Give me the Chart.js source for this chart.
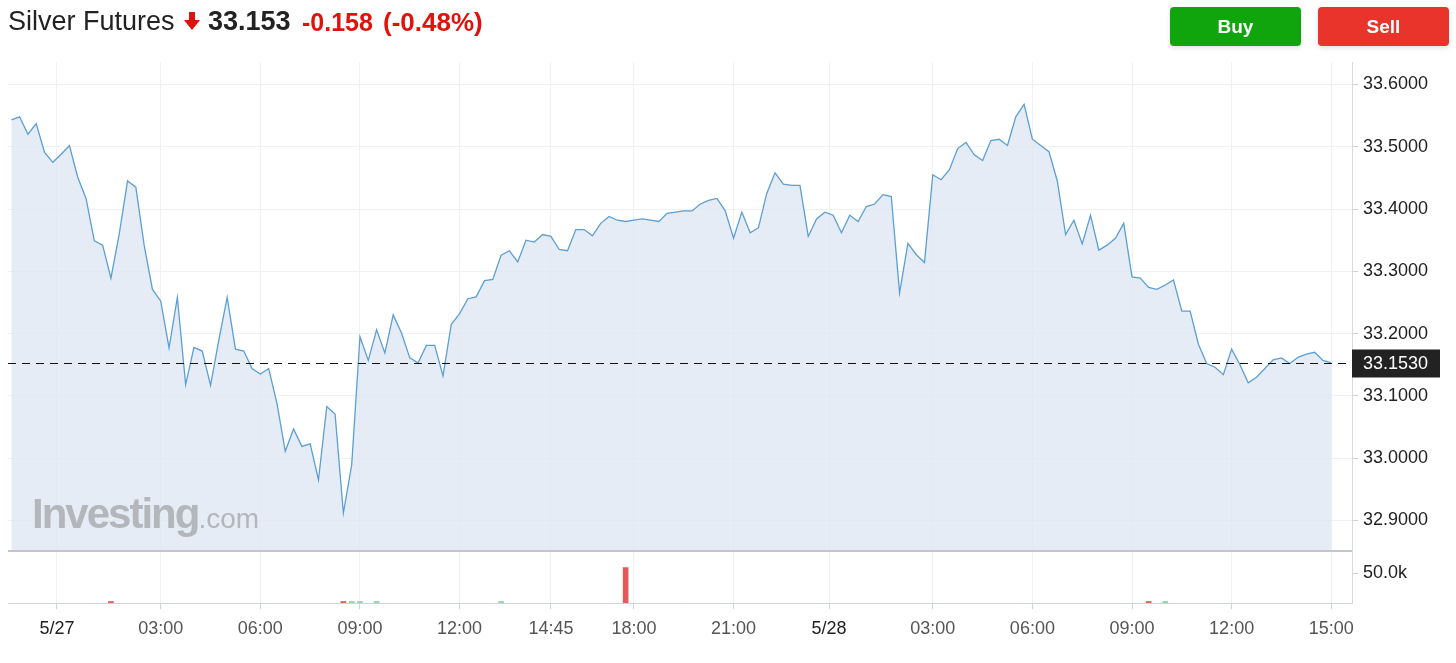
<!DOCTYPE html>
<html>
<head>
<meta charset="utf-8">
<title>Silver Futures</title>
<script src="https://cdn.jsdelivr.net/npm/chart.js@4.4.0/dist/chart.umd.min.js"></script>
<style>
  body { margin: 0; background: #fff; font-family: "Liberation Sans", Arial, sans-serif; }
  #wrap { position: relative; width: 1456px; height: 663px; overflow: hidden; }
  #chart { position: absolute; left: 0; top: 0; }
  .hdr { position: absolute; top: 8px; font-size: 27px; line-height: 27px; white-space: nowrap; }
  .name { left: 8px; color: #222; }
  .last { left: 208px; color: #222; font-weight: bold; }
  .chg { left: 302px; color: #e0120c; font-weight: bold; font-size: 25px; top: 9px; }
  .pct { left: 383px; color: #e0120c; font-weight: bold; font-size: 26px; top: 9px; }
  .arrow { position: absolute; left: 184px; top: 12px; }
  .btn { position: absolute; top: 7px; width: 131px; height: 39px; border-radius: 4px; color: #fff;
         font-weight: bold; font-size: 19px; display: flex; align-items: center; justify-content: center;
         box-shadow: 0 2px 5px rgba(0,0,0,0.12); }
  .buy { left: 1170px; background: #10a50d; }
  .sell { left: 1318px; background: #e8342a; }
  .wm { position: absolute; left: 32px; top: 490px; color: #b3b6bb; white-space: nowrap; }
  .wm b { font-size: 42px; letter-spacing: -2px; }
  .wm span { font-size: 28px; }
</style>
</head>
<body>
<div id="wrap">
  <canvas id="chart" width="1456" height="663"></canvas>
  <div class="wm"><b>Investing</b><span>.com</span></div>
  <div class="hdr name">Silver Futures</div>
  <svg class="arrow" width="16" height="18" viewBox="0 0 16 18"><path d="M5 0 H11 V8 H16 L8 18 L0 8 H5 Z" fill="#e0120c"/></svg>
  <div class="hdr last">33.153</div>
  <div class="hdr chg">-0.158</div>
  <div class="hdr pct">(-0.48%)</div>
  <div class="btn buy">Buy</div>
  <div class="btn sell">Sell</div>
</div>
<script>
// 15-minute closes, 5/26 22:30 -> 5/28 15:00 (market-closed hour skipped)
const prices = [
  33.543, 33.548, 33.520, 33.537, 33.491, 33.475, 33.488, 33.502, 33.451, 33.417,
  33.349, 33.342, 33.289, 33.360, 33.445, 33.435, 33.342, 33.271, 33.252, 33.177,
  33.258, 33.118, 33.178, 33.172, 33.117, 33.190, 33.258, 33.175, 33.172, 33.144,
  33.135, 33.144, 33.088, 33.011, 33.047, 33.019, 33.023, 32.965, 33.083, 33.071,
  32.912, 32.989, 33.195, 33.157, 33.206, 33.169, 33.230, 33.201, 33.161, 33.153,
  33.181, 33.181, 33.132, 33.215, 33.232, 33.256, 33.259, 33.285, 33.287, 33.326,
  33.333, 33.315, 33.350, 33.347, 33.359, 33.356, 33.335, 33.333, 33.367, 33.367,
  33.357, 33.377, 33.388, 33.382, 33.380, 33.382, 33.384, 33.382, 33.380, 33.393,
  33.395, 33.397, 33.397, 33.408, 33.414, 33.417, 33.397, 33.353, 33.395, 33.362,
  33.370, 33.425, 33.458, 33.440, 33.438, 33.438, 33.356, 33.384, 33.395, 33.390,
  33.362, 33.390, 33.380, 33.404, 33.408, 33.423, 33.420, 33.265, 33.345, 33.327,
  33.314, 33.455, 33.447, 33.463, 33.497, 33.507, 33.487, 33.478, 33.510, 33.512,
  33.502, 33.548, 33.568, 33.512, 33.502, 33.492, 33.445, 33.359, 33.382, 33.344,
  33.390, 33.334, 33.342, 33.353, 33.377, 33.291, 33.289, 33.274, 33.271, 33.278,
  33.286, 33.236, 33.236, 33.183, 33.152, 33.146, 33.134, 33.175, 33.150, 33.121,
  33.130, 33.144, 33.158, 33.161, 33.152, 33.162, 33.167, 33.170, 33.157, 33.153
];

// volume per bar (only a handful of bars carry visible volume)
const volumes = [
  0, 0, 0, 0, 0, 0, 0, 0, 0, 0,
  0, 0, 2500, 0, 0, 0, 0, 0, 0, 0,
  0, 0, 0, 0, 0, 0, 0, 0, 0, 0,
  0, 0, 0, 0, 0, 0, 0, 0, 0, 0,
  2500, 2500, 2500, 0, 2500, 0, 0, 0, 0, 0,
  0, 0, 0, 0, 0, 0, 0, 0, 0, 2500,
  0, 0, 0, 0, 0, 0, 0, 0, 0, 0,
  0, 0, 0, 0, 59000, 0, 0, 0, 0, 0,
  0, 0, 0, 0, 0, 0, 0, 0, 0, 0,
  0, 0, 0, 0, 0, 0, 0, 0, 0, 0,
  0, 0, 0, 0, 0, 0, 0, 0, 0, 0,
  0, 0, 0, 0, 0, 0, 0, 0, 0, 0,
  0, 0, 0, 0, 0, 0, 0, 0, 0, 0,
  0, 0, 0, 0, 0, 0, 0, 2500, 0, 2500,
  0, 0, 0, 0, 0, 0, 0, 0, 0, 0,
  0, 0, 0, 0, 0, 0, 0, 0, 0, 0
];

// x ticks sit at bar positions (index), not at clock time
const tickIdx = [5.5, 18, 30, 42, 54, 65, 75, 87, 98.5, 111, 123, 135, 147, 159];
const tickLabels = ['5/27', '03:00', '06:00', '09:00', '12:00', '14:45', '18:00', '21:00',
                    '5/28', '03:00', '06:00', '09:00', '12:00', '15:00'];
const priceTicks = [32.9, 33.0, 33.1, 33.2, 33.3, 33.4, 33.5, 33.6];
const volumeTicks = [50000];
const lastPrice = 33.153;

const FONT = '"Liberation Sans", Arial, sans-serif';

// separator between panes, dashed last-price line and its label box
const overlay = {
  id: 'overlay',
  afterDraw(chart) {
    const ctx = chart.ctx;
    const area = chart.chartArea;
    const y = chart.scales.y;
    ctx.save();
    ctx.strokeStyle = '#c3c7cc';
    ctx.lineWidth = 2;
    ctx.beginPath();
    ctx.moveTo(area.left, y.bottom);
    ctx.lineTo(area.right, y.bottom);
    ctx.stroke();

    const py = Math.round(y.getPixelForValue(lastPrice)) + 0.5;
    ctx.strokeStyle = '#111';
    ctx.lineWidth = 1;
    ctx.setLineDash([8, 6]);
    ctx.beginPath();
    ctx.moveTo(area.left, py);
    ctx.lineTo(area.right, py);
    ctx.stroke();
    ctx.setLineDash([]);

    ctx.fillStyle = '#222';
    ctx.fillRect(area.right, py - 14, 88, 28);
    ctx.fillStyle = '#fff';
    ctx.font = '18px ' + FONT;
    ctx.textBaseline = 'middle';
    ctx.textAlign = 'left';
    ctx.fillText(lastPrice.toFixed(4), area.right + 11, py + 1);
    ctx.restore();
  }
};

new Chart(document.getElementById('chart'), {
  type: 'line',
  data: {
    datasets: [
      {
        type: 'line',
        data: prices.map((p, i) => ({ x: i, y: p })),
        yAxisID: 'y',
        borderColor: '#5b9fd4',
        borderWidth: 1.3,
        backgroundColor: 'rgba(222, 231, 242, 0.8)',
        fill: 'start',
        pointRadius: 0,
        tension: 0
      },
      {
        type: 'bar',
        data: volumes.map((v, i) => ({ x: i, y: v })),
        yAxisID: 'yv',
        backgroundColor: volumes.map((v, i) => v === 0 ? 'rgba(0,0,0,0)'
          : (i > 0 && prices[i] < prices[i - 1]) ? '#e45a5a' : '#8fd6a0'),
        barThickness: 5
      }
    ]
  },
  options: {
    responsive: false,
    animation: false,
    layout: { padding: { top: 62, left: 8, right: 0, bottom: 0 } },
    plugins: { legend: { display: false }, tooltip: { enabled: false } },
    scales: {
      x: {
        type: 'linear',
        offset: false,
        min: -0.4,
        max: 161.5,
        afterBuildTicks: s => { s.ticks = tickIdx.map(v => ({ value: v })); },
        afterFit: s => { s.height = 60; },
        ticks: {
          autoSkip: false,
          maxRotation: 0,
          padding: 9,
          font: { family: FONT, size: 18 },
          color: c => (tickLabels[c.index] || '').includes('/') ? '#222' : '#555',
          callback: (v, i) => tickLabels[i]
        },
        grid: { offset: false, color: '#eef0f3', tickColor: '#cfd4da', tickLength: 6 },
        border: { color: '#cfd4da' }
      },
      y: {
        position: 'right',
        stack: 'panes',
        stackWeight: 489,
        min: 32.851,
        max: 33.636,
        afterBuildTicks: s => { s.ticks = priceTicks.map(v => ({ value: v })); },
        afterFit: s => { s.width = 104; },
        ticks: {
          padding: 5,
          font: { family: FONT, size: 18 },
          color: '#222',
          callback: v => Number(v).toFixed(4)
        },
        grid: { color: '#f0f1f3', tickColor: '#cfd4da', tickLength: 6 },
        border: { color: '#d5dae0' }
      },
      yv: {
        position: 'right',
        stack: 'panes',
        stackWeight: 52,
        min: 0,
        max: 86667,
        afterBuildTicks: s => { s.ticks = volumeTicks.map(v => ({ value: v })); },
        afterFit: s => { s.width = 104; },
        ticks: {
          padding: 5,
          font: { family: FONT, size: 18 },
          color: '#222',
          callback: v => (v / 1000).toFixed(1) + 'k'
        },
        grid: { drawOnChartArea: false, tickColor: '#cfd4da', tickLength: 6 },
        border: { color: '#d5dae0' }
      }
    }
  },
  plugins: [overlay]
});
</script>
</body>
</html>
